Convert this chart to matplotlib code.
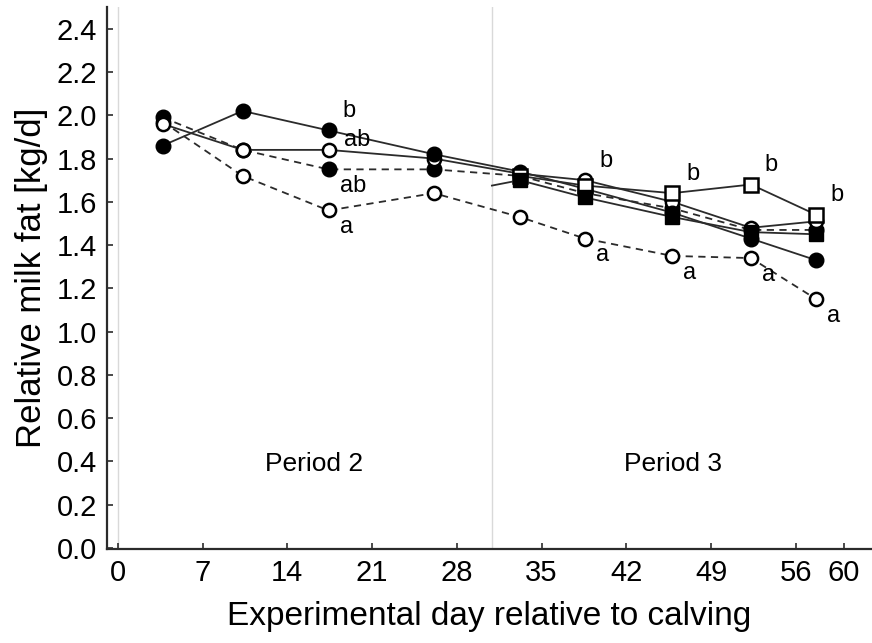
import matplotlib
matplotlib.use("Agg")
import matplotlib.pyplot as plt

plt.rcParams['font.family'] = ['Liberation Sans', 'DejaVu Sans']

# sampling days (period 2 and period 3)
days = [3.7, 10.3, 17.4, 26.1, 33.2, 38.6, 45.8, 52.3, 57.7]
days_p3 = [33.2, 38.6, 45.8, 52.3, 57.7]

# circle groups, both periods
filled_solid = [1.86, 2.02, 1.93, 1.82, 1.74, 1.66, 1.55, 1.43, 1.33]
open_solid = [1.96, 1.84, 1.84, 1.80, 1.73, 1.70, 1.60, 1.48, 1.51]
filled_dashed = [1.99, 1.84, 1.75, 1.75, 1.72, 1.64, 1.57, 1.47, 1.47]
open_dashed = [1.97, 1.72, 1.56, 1.64, 1.53, 1.43, 1.35, 1.34, 1.15]

# square groups, period 3 only
open_square = [1.72, 1.675, 1.64, 1.68, 1.54]
filled_square_days = [30.9, 33.2, 38.6, 45.8, 52.3, 57.7]
filled_square = [1.675, 1.70, 1.62, 1.53, 1.46, 1.45]

# significance letters: (series, day index, letter, above/below)
letters = [
    ('filled_solid', 2, 'b', 'up'),
    ('open_solid', 2, 'ab', 'up_small'),
    ('filled_dashed', 2, 'ab', 'down'),
    ('open_dashed', 2, 'a', 'down'),
    ('open_solid', 5, 'b', 'up'),
    ('open_dashed', 5, 'a', 'down'),
    ('open_square', 2, 'b', 'up'),
    ('open_dashed', 6, 'a', 'down'),
    ('open_square', 3, 'b', 'up'),
    ('open_dashed', 7, 'a', 'down'),
    ('open_square', 4, 'b', 'up'),
    ('open_dashed', 8, 'a', 'down'),
]

fig = plt.figure(figsize=(8.72, 6.43), dpi=100)
ax = fig.add_axes([0.1227, 0.146, 0.8773, 0.843])

line_col = '#2b2b2b'
ax.axvline(0, color='#d9d9d9', lw=1, zorder=0)
ax.axvline(30.9, color='#d9d9d9', lw=1, zorder=0)

ms = 10.5
mso = 9.5
ax.plot(days, open_dashed, '--', color=line_col, lw=1.3, dashes=(4, 3),
        marker='o', ms=mso, mfc='white', mec='black', mew=1.8, zorder=3)
ax.plot(days, filled_dashed, '--', color=line_col, lw=1.3, dashes=(4, 3),
        marker='o', ms=ms, mfc='black', mec='black', zorder=3)
ax.plot(days, open_solid, '-', color=line_col, lw=1.3,
        marker='o', ms=mso, mfc='white', mec='black', mew=1.8, zorder=3)
ax.plot(days, filled_solid, '-', color=line_col, lw=1.3,
        marker='o', ms=ms, mfc='black', mec='black', zorder=3)
ax.plot(days_p3, open_square, '-', color=line_col, lw=1.3,
        marker='s', ms=mso, mfc='white', mec='black', mew=1.8, zorder=4)
ax.plot(filled_square_days, filled_square, '-', color=line_col, lw=1.3,
        marker='s', ms=ms, mfc='black', mec='black', markevery=list(range(1, 6)),
        zorder=4)

series = {'filled_solid': (days, filled_solid), 'open_solid': (days, open_solid),
          'filled_dashed': (days, filled_dashed), 'open_dashed': (days, open_dashed),
          'open_square': (days_p3, open_square)}
offsets = {'up': (10, 14), 'up_small': (11, 7), 'down': (8, -12)}
for name, i, txt, side in letters:
    xs, ys = series[name]
    dx, dy = offsets[side]
    ax.annotate(txt, (xs[i], ys[i]), xytext=(dx, dy), textcoords='offset points',
                ha='left', va='center', fontsize=17, zorder=5)

ax.text(16.2, 0.39, 'Period 2', ha='center', va='center', fontsize=19)
ax.text(45.9, 0.39, 'Period 3', ha='center', va='center', fontsize=19)

ax.set_xlim(-0.9, 62.3)
ax.set_ylim(-0.005, 2.5)
ax.set_xticks([0, 7, 14, 21, 28, 35, 42, 49, 56, 60])
ax.set_yticks([0.0, 0.2, 0.4, 0.6, 0.8, 1.0, 1.2, 1.4, 1.6, 1.8, 2.0, 2.2, 2.4])
ax.set_yticklabels(['%.1f' % v for v in ax.get_yticks()])
ax.tick_params(direction='in', length=4, width=1.2, labelsize=21, pad=7,
               color=line_col)
ax.spines['top'].set_visible(False)
ax.spines['right'].set_visible(False)
ax.spines['left'].set_linewidth(1.6)
ax.spines['bottom'].set_linewidth(1.6)
ax.spines['left'].set_color(line_col)
ax.spines['bottom'].set_color(line_col)

ax.set_xlabel('Experimental day relative to calving', fontsize=24, labelpad=10)
ax.set_ylabel('Relative milk fat [kg/d]', fontsize=25, labelpad=6)

fig.savefig('out.png', dpi=100)
